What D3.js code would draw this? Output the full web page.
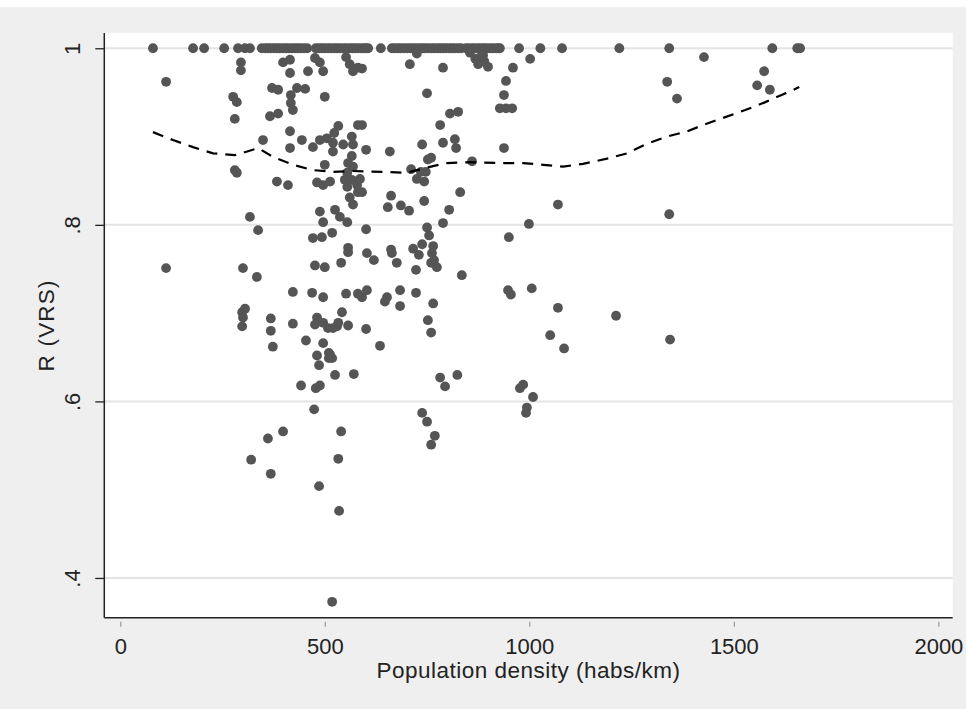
<!DOCTYPE html>
<html>
<head>
<meta charset="utf-8">
<script src="https://cdn.jsdelivr.net/npm/d3@7"></script>
<style>
body{margin:0;background:#fff;}
svg{display:block;font-family:"Liberation Sans",Arial,sans-serif;}
</style>
</head>
<body>
<svg id="chart" width="966" height="709"></svg>
<script>
// tick values and labels
var xTicks = [0, 500, 1000, 1500, 2000];
var yTicks = [0.4, 0.6, 0.8, 1];
var yTickLabels = [".4", ".6", ".8", "1"];

// efficient units (R = 1)
var efficientDensity = [80,178,205,254,288,305,317,346,355,361,368,376,383,390,398,405,412,420,427,434,441,449,457,
	478,486,493,500,508,515,523,530,537,545,552,560,567,574,581,589,596,601,606,637,664,671,679,686,694,701,709,716,
	723,731,738,745,752,760,767,775,782,789,796,804,811,818,826,833,845,852,860,867,875,882,889,896,904,911,919,924,
	928,975,1027,1080,1220,1342,1594,1655,1662];

// remaining units: density and R (VRS)
var density = [112,295,295,398,415,415,459,476,488,496,276,285,280,371,386,417,417,422,432,452,500,366,386,415,349,415,
	444,471,488,505,280,285,383,410,500,481,496,488,496,317,337,471,493,112,300,334,476,500,422,469,496,298,300,298,305,
	368,368,373,422,481,476,496,508,454,496,481,486,510,510,442,478,488,474,398,361,320,368,486,535,518,
	520,520,533,523,545,566,569,581,552,561,569,581,591,566,557,569,555,549,566,579,555,581,561,569,513,525,537,555,518,
	557,557,540,552,581,542,530,557,520,533,513,518,525,571,540,533,
	708,789,899,750,782,806,826,591,601,659,738,789,818,821,860,711,735,752,760,725,743,747,586,591,831,662,654,686,706,
	743,804,789,601,750,755,738,765,716,730,762,767,774,760,662,664,603,620,676,723,835,603,591,652,647,684,684,723,765,
	752,760,601,635,782,794,824,738,750,769,760,725,855,868,880,890,875,
	887,960,1002,943,938,928,943,958,938,1070,999,950,948,955,1006,1070,1212,1051,1085,977,985,1009,994,992,
	1427,1337,1361,1342,1344,1557,1574,1588];
var rVrs = [0.962,0.984,0.975,0.984,0.987,0.972,0.974,0.989,0.984,0.974,0.945,0.939,0.920,0.955,0.953,0.947,0.938,0.930,
	0.955,0.954,0.945,0.923,0.926,0.906,0.896,0.887,0.896,0.888,0.896,0.898,0.862,0.859,0.849,0.845,0.868,0.848,0.845,
	0.815,0.803,0.809,0.794,0.785,0.786,0.751,0.751,0.741,0.754,0.752,0.724,0.723,0.718,0.701,0.695,0.685,0.705,0.694,
	0.680,0.662,0.688,0.695,0.687,0.689,0.683,0.669,0.666,0.652,0.641,0.655,0.649,0.618,0.615,0.618,0.591,0.566,0.558,
	0.534,0.518,0.504,0.476,0.373,
	0.893,0.883,0.912,0.904,0.891,0.900,0.891,0.913,0.990,0.982,0.974,0.978,0.977,0.878,0.870,0.866,0.859,0.851,0.851,
	0.845,0.843,0.837,0.831,0.823,0.849,0.817,0.809,0.803,0.791,0.774,0.769,0.757,0.722,0.722,0.701,0.685,0.686,0.683,
	0.689,0.653,0.649,0.630,0.631,0.566,0.535,
	0.982,0.978,0.979,0.949,0.913,0.926,0.928,0.913,0.885,0.883,0.891,0.893,0.897,0.887,0.872,0.863,0.860,0.874,0.876,
	0.852,0.849,0.860,0.852,0.837,0.837,0.833,0.820,0.822,0.816,0.827,0.817,0.802,0.795,0.797,0.788,0.778,0.776,0.773,
	0.766,0.768,0.760,0.752,0.757,0.772,0.768,0.768,0.760,0.757,0.749,0.743,0.726,0.718,0.718,0.713,0.726,0.708,0.723,
	0.711,0.692,0.678,0.682,0.663,0.627,0.617,0.630,0.587,0.577,0.561,0.551,0.994,0.995,0.988,0.990,0.985,0.982,
	0.992,0.978,0.988,0.963,0.947,0.932,0.932,0.932,0.887,0.823,0.801,0.786,0.726,0.721,0.728,0.706,0.697,0.675,0.660,
	0.615,0.619,0.605,0.593,0.587,
	0.990,0.962,0.943,0.812,0.670,0.958,0.974,0.953];

// lowess smoother
var lowessX = [80,129,178,227,280,310,337,373,422,471,520,569,642,701,750,799,855,936,985,1034,1083,1131,1190,1239,
	1288,1337,1386,1430,1479,1528,1577,1621,1660];
var lowessY = [0.905,0.896,0.888,0.881,0.879,0.883,0.887,0.877,0.868,0.862,0.860,0.861,0.860,0.859,0.865,0.870,0.871,
	0.870,0.870,0.868,0.866,0.869,0.875,0.881,0.892,0.900,0.906,0.914,0.922,0.930,0.939,0.948,0.956];

var width = 966, height = 709;
var margin = {top: 33, right: 13.3, bottom: 91.3, left: 104.3};

var svg = d3.select("#chart");

svg.append("rect")
	.attr("x", 0).attr("y", 7)
	.attr("width", width).attr("height", height - 7)
	.attr("fill", "#efefef");

var x = d3.scaleLinear()
	.domain([-39, 2035])
	.range([margin.left, width - margin.right]);

var y = d3.scaleLinear()
	.domain([0.355, 1.0173])
	.range([height - margin.bottom, margin.top]);

svg.append("rect")
	.attr("x", margin.left).attr("y", margin.top)
	.attr("width", width - margin.right - margin.left)
	.attr("height", height - margin.bottom - margin.top)
	.attr("fill", "#ffffff");

// grid lines
svg.append("g")
	.selectAll("line")
	.data(yTicks)
	.enter()
	.append("line")
	.attr("x1", margin.left)
	.attr("x2", width - margin.right)
	.attr("y1", function(d){ return y(d); })
	.attr("y2", function(d){ return y(d); })
	.attr("stroke", "#e4e4e4")
	.attr("stroke-width", 2);

// points
var points = efficientDensity.map(function(d){ return [d, 1]; })
	.concat(density.map(function(d, i){ return [d, rVrs[i]]; }));

svg.append("g")
	.selectAll("circle")
	.data(points)
	.enter()
	.append("circle")
	.attr("cx", function(d){ return x(d[0]); })
	.attr("cy", function(d){ return y(d[1]); })
	.attr("r", 4.9)
	.attr("fill", "#555555");

// lowess line
var line = d3.line()
	.x(function(d){ return x(d); })
	.y(function(d, i){ return y(lowessY[i]); });

svg.append("path")
	.attr("d", line(lowessX))
	.attr("fill", "none")
	.attr("stroke", "#000")
	.attr("stroke-width", 2.2)
	.attr("stroke-dasharray", "11,8");

// y axis
var yAxis = d3.axisLeft(y)
	.tickValues(yTicks)
	.tickSize(9)
	.tickFormat(function(d, i){ return yTickLabels[i]; });

var gy = svg.append("g")
	.attr("transform", "translate(" + margin.left + ",0)")
	.call(yAxis);
gy.select(".domain")
	.attr("d", "M0," + margin.top + "V" + (height - margin.bottom))
	.attr("stroke", "#222").attr("stroke-width", 1.5);
gy.selectAll(".tick line").attr("stroke", "#222").attr("stroke-width", 1.3);
gy.selectAll(".tick text")
	.attr("x", null).attr("dy", null)
	.attr("transform", "translate(-24,0) rotate(-90)")
	.attr("text-anchor", "middle")
	.attr("font-size", 22)
	.attr("fill", "#222");

// x axis
var xAxis = d3.axisBottom(x)
	.tickValues(xTicks)
	.tickSize(0)
	.tickFormat(d3.format("d"));

var gx = svg.append("g")
	.attr("transform", "translate(0," + (height - margin.bottom) + ")")
	.call(xAxis);
gx.select(".domain")
	.attr("d", "M" + margin.left + ",0H" + (width - margin.right))
	.attr("stroke", "#222").attr("stroke-width", 1.5);
gx.selectAll(".tick line")
	.attr("y1", 4).attr("y2", 9)
	.attr("stroke", "#999").attr("stroke-width", 1.2);
gx.selectAll(".tick text")
	.attr("y", 36).attr("dy", null)
	.attr("font-size", 22)
	.attr("fill", "#222");

// axis titles
svg.append("text")
	.attr("x", (margin.left + width - margin.right) / 2)
	.attr("y", 678)
	.attr("text-anchor", "middle")
	.attr("font-size", 22.5)
	.attr("letter-spacing", 0.5)
	.attr("fill", "#222")
	.text("Population density (habs/km)");

svg.append("text")
	.attr("transform", "translate(54," + ((margin.top + height - margin.bottom) / 2) + ") rotate(-90)")
	.attr("text-anchor", "middle")
	.attr("font-size", 22.5)
	.attr("letter-spacing", 1.2)
	.attr("fill", "#222")
	.text("R (VRS)");
</script>
</body>
</html>
